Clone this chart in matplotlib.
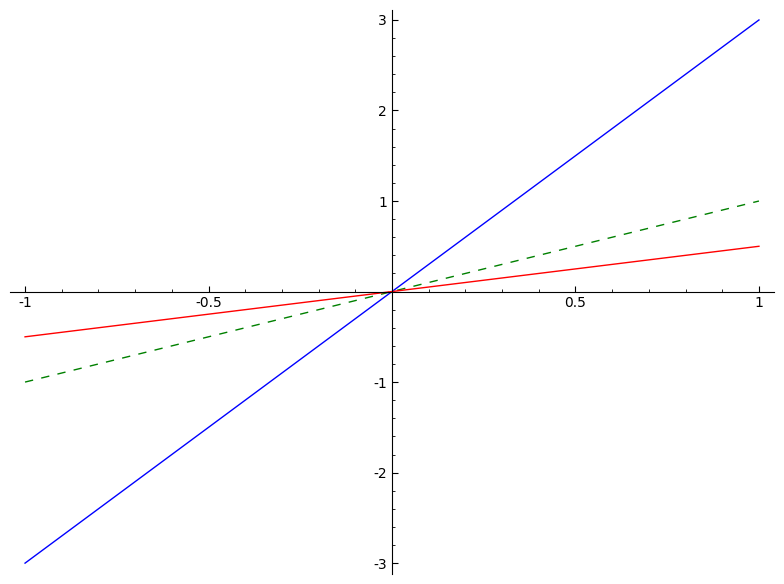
import numpy as np
import matplotlib
matplotlib.use('Agg')
import matplotlib.pyplot as plt
from matplotlib.ticker import MultipleLocator, FuncFormatter

# line endpoints and slopes
x_vals = [-1.0, 1.0]
slopes = [3.0, 1.0, 0.5]
colors = ['blue', 'green', 'red']
styles = ['-', '--', '-']

x_ticks = [-1, -0.5, 0.5, 1]
y_ticks = [-3, -2, -1, 1, 2, 3]

fig = plt.figure(figsize=(7.84, 5.84), dpi=100)
ax = fig.add_axes([10/784, 10/584, 764/784, 564/584])

x = np.array(x_vals)
for m, c, ls in zip(slopes, colors, styles):
    line, = ax.plot(x, m * x, color=c, linestyle=ls, linewidth=1)
    if ls == '--':
        line.set_dashes((6, 6))

ax.set_xlim(-1.041, 1.041)
ax.set_ylim(-3.12, 3.11)

ax.spines['left'].set_position(('data', 0))
ax.spines['bottom'].set_position(('data', 0))
ax.spines['right'].set_visible(False)
ax.spines['top'].set_visible(False)

ax.set_xticks(x_ticks)
ax.set_yticks(y_ticks)
ax.xaxis.set_minor_locator(MultipleLocator(0.1))
ax.yaxis.set_minor_locator(MultipleLocator(0.2))

fmt = FuncFormatter(lambda v, p: ('%g' % v))
ax.xaxis.set_major_formatter(fmt)
ax.yaxis.set_major_formatter(fmt)

ax.tick_params(which='both', direction='in', labelsize=10)
ax.tick_params(which='major', length=4)
ax.tick_params(which='minor', length=2)

fig.savefig('out.png', dpi=100)
